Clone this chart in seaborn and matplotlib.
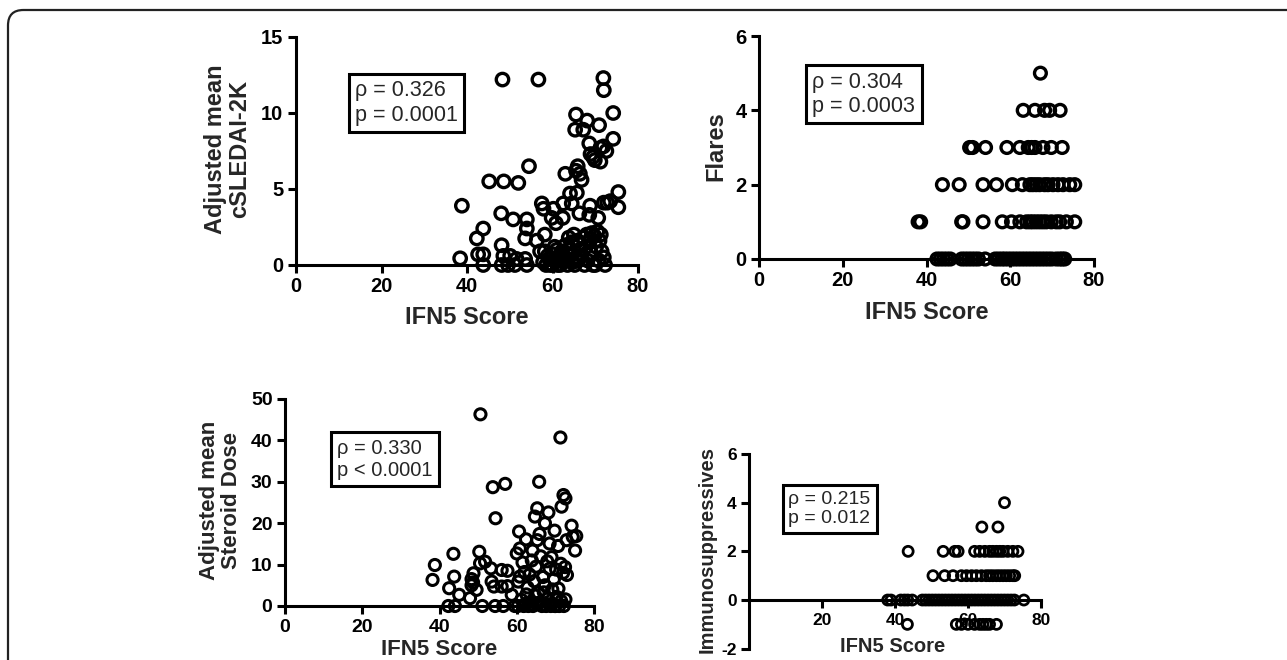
import numpy as np
import pandas as pd
import matplotlib
matplotlib.use("Agg")
import matplotlib.pyplot as plt
from matplotlib.patches import FancyBboxPatch
import seaborn as sns

# ---------------- data ----------------
# Panel A: Adjusted mean cSLEDAI-2K vs IFN5 score
sled_x = [48.3, 56.7, 71.9, 72.0,
          65.5, 74.2, 68.1, 70.9, 65.3, 67.2, 74.2, 68.6, 71.2, 71.9, 72.6, 68.9, 69.5, 69.9, 71.2,
          54.5, 65.9, 65.5, 63.0, 66.4, 66.8,
          45.2, 48.6, 52.0,
          75.4, 64.1, 65.7, 73.5, 72.0, 72.8, 75.4, 62.5, 64.5, 57.5, 57.9, 60.2, 68.8, 38.8,
          48.0, 66.3, 68.6, 70.7, 62.4, 59.8, 60.8, 50.8, 54.0, 54.0, 43.8, 53.6, 42.3, 56.3, 58.2,
          48.1, 42.6, 43.8, 38.4, 43.8,
          48.5, 50.1, 51.6, 48.1, 49.6, 51.2, 53.6, 54.0, 57.1, 58.2,
          60.5, 61.5, 62.0, 63.0, 63.8, 64.5, 65.0, 65.8, 66.5, 67.2, 68.0, 68.6, 69.2, 69.8, 70.5,
          71.0, 70.2, 71.5, 72.0, 72.3, 70.0, 68.2, 67.5, 66.0, 65.2, 64.2, 63.5, 62.6, 61.8, 60.8,
          60.0, 59.2, 58.5, 57.8, 61.2, 62.2, 64.8, 66.8, 69.0, 60.2, 59.5, 63.2, 67.8, 70.8, 69.5,
          66.2, 64.0, 61.0, 58.9, 71.3, 68.8, 65.5]
sled_y = [12.2, 12.2, 12.3, 11.5,
          9.9, 10.0, 9.5, 9.2, 8.9, 8.9, 8.3, 8.0, 7.7, 7.8, 7.5, 7.3, 7.1, 6.9, 6.8,
          6.5, 6.5, 6.2, 6.0, 6.0, 5.6,
          5.5, 5.5, 5.4,
          4.8, 4.7, 4.75, 4.2, 4.1, 4.1, 3.8, 4.05, 4.05, 4.05, 3.7, 3.7, 3.9, 3.9,
          3.4, 3.4, 3.3, 3.1, 3.1, 3.1, 2.75, 3.0, 3.0, 2.4, 2.4, 1.75, 1.75, 1.6, 2.0,
          1.3, 0.7, 0.7, 0.44, 0.0,
          0.6, 0.6, 0.4, 0.0, 0.0, 0.0, 0.4, 0.0, 0.9, 0.9,
          1.2, 0.5, 0.8, 1.3, 1.8, 1.5, 2.0, 1.6, 1.0, 1.8, 2.0, 1.5, 2.1, 1.9, 2.2,
          1.6, 1.2, 0.9, 0.5, 0.0, 0.0, 0.3, 0.0, 0.3, 0.0, 0.6, 0.0, 0.2, 0.0, 0.3,
          0.0, 0.4, 0.0, 0.2, 0.0, 0.9, 0.2, 0.6, 0.8, 0.7, 0.0, 0.4, 1.2, 0.3, 0.0,
          1.4, 1.1, 1.0, 0.6, 2.0, 1.7, 0.5]

# Panel B: Flares vs IFN5 score
flare_x = [67.2,
           63.1, 65.9, 68.2, 69.4, 71.9,
           50.3, 51.0, 54.1, 59.2, 62.3, 64.3, 65.1, 65.9, 67.8, 69.8, 72.4,
           43.8, 47.8, 53.5, 56.7, 60.5, 62.9, 64.7, 65.4, 66.2, 67.0, 68.2, 69.0, 70.2, 71.4,
           72.6, 74.2, 75.4,
           38.0, 38.6, 48.4, 48.7, 53.5, 58.1, 60.3, 62.3, 63.9, 64.7, 65.4, 66.2, 67.0, 67.8,
           68.6, 69.8, 71.0, 71.8, 73.4, 75.4,
           42.5, 43.3, 44.1, 44.9, 45.7, 48.4, 49.2, 50.0, 50.8, 51.6, 52.4, 54.0, 56.4, 57.2,
           58.0, 58.7, 59.5, 60.3, 61.1, 61.9, 62.7, 63.5, 64.3, 65.1, 65.9, 66.7, 67.5, 68.3,
           69.1, 69.9, 71.0, 71.8, 72.4, 73.0]
flare_y = [5,
           4, 4, 4, 4, 4,
           3, 3, 3, 3, 3, 3, 3, 3, 3, 3, 3,
           2, 2, 2, 2, 2, 2, 2, 2, 2, 2, 2, 2, 2, 2, 2, 2, 2,
           1, 1, 1, 1, 1, 1, 1, 1, 1, 1, 1, 1, 1, 1, 1, 1, 1, 1, 1, 1,
           0, 0, 0, 0, 0, 0, 0, 0, 0, 0, 0, 0, 0, 0, 0, 0, 0, 0, 0, 0, 0, 0, 0, 0, 0, 0, 0, 0,
           0, 0, 0, 0, 0, 0]

# Panel C: Adjusted mean steroid dose vs IFN5 score
ster_x = [50.6, 71.3, 65.8, 57.0, 53.8, 54.5, 72.1, 72.6, 65.3, 71.6, 68.2, 64.7, 67.3, 69.8,
          74.2, 60.6, 62.4, 65.9, 65.3, 75.4, 74.5, 72.9, 70.7, 75.1, 68.5, 60.8, 60.0, 64.1,
          43.6, 50.3, 38.8, 38.2, 42.5, 43.8, 45.1, 42.3, 44.0,
          48.8, 48.3, 48.7, 48.3, 49.6, 47.9, 51.1, 50.5, 51.8, 53.3, 53.5, 54.1, 54.4, 56.5,
          56.1, 57.6, 56.1, 57.6, 58.7, 60.8, 60.4,
          61.5, 62.0, 62.8, 63.3, 63.9, 64.5, 65.0, 65.6, 66.2, 66.8, 67.3, 67.9, 68.5, 69.0,
          69.6, 70.2, 70.8, 71.4, 72.0, 72.5, 61.2, 62.5, 63.6, 64.8, 65.9, 67.0, 68.1, 69.2,
          70.3, 71.5, 72.6, 60.3, 61.8, 63.0, 64.2, 66.5, 67.6, 68.8, 70.0, 71.0, 59.5, 62.2,
          63.8, 65.4, 66.9, 68.4, 69.9, 72.2, 73.0]
ster_y = [46.3, 40.7, 30.0, 29.5, 28.7, 21.2, 26.8, 26.0, 23.6, 24.0, 22.6, 21.6, 20.0, 18.2,
          19.4, 18.0, 16.1, 17.4, 15.9, 16.9, 16.7, 15.9, 14.5, 13.4, 15.1, 13.9, 12.7, 13.4,
          12.6, 13.1, 9.9, 6.3, 4.3, 7.1, 2.7, 0.0, 0.0,
          7.9, 6.5, 5.7, 5.0, 3.9, 1.9, 0.0, 10.3, 10.7, 9.1, 5.9, 4.7, 0.0, 0.0,
          8.7, 8.5, 4.7, 4.8, 2.7, 7.1, 5.9,
          10.5, 8.2, 4.5, 7.6, 11.0, 6.0, 9.5, 3.2, 12.0, 7.0, 5.0, 10.8, 9.0, 11.8,
          6.4, 8.8, 4.2, 10.2, 8.0, 9.4, 1.5, 2.8, 1.0, 2.5, 0.8, 3.3, 1.8, 4.0,
          2.2, 1.2, 1.6, 0.0, 0.0, 0.0, 0.0, 0.0, 0.0, 0.0, 0.0, 0.0, 0.0, 0.5,
          0.3, 0.6, 0.2, 0.4, 0.0, 0.0, 7.5]

# Panel D: Immunosuppressives vs IFN5 score
imm_x = [70.0,
         63.8, 68.2,
         43.6, 53.2, 56.4, 57.3, 61.8, 63.2, 64.6, 65.9, 66.8, 67.8, 68.7, 69.6, 70.9, 72.3, 73.7,
         50.4, 53.6, 55.9, 58.2, 59.6, 61.0, 62.3, 63.7, 65.0, 65.9, 66.8, 67.8, 68.7, 69.6,
         70.5, 71.4, 72.3, 72.8,
         38.0, 38.9, 41.6, 42.6, 43.5, 44.7, 47.5, 48.4, 49.3, 50.2, 51.1, 52.0, 52.9, 53.8,
         54.7, 55.6, 56.5, 57.4, 58.3, 59.2, 60.1, 61.0, 61.9, 62.8, 63.7, 64.6, 65.5, 66.4,
         67.3, 68.2, 69.1, 70.0, 70.9, 71.8, 72.7, 75.3,
         43.4, 56.8, 58.2, 60.0, 61.8, 63.2, 64.1, 65.0, 65.9, 67.8]
imm_y = [4,
         3, 3,
         2, 2, 2, 2, 2, 2, 2, 2, 2, 2, 2, 2, 2, 2, 2,
         1, 1, 1, 1, 1, 1, 1, 1, 1, 1, 1, 1, 1, 1, 1, 1, 1, 1,
         0, 0, 0, 0, 0, 0, 0, 0, 0, 0, 0, 0, 0, 0, 0, 0, 0, 0, 0, 0, 0, 0, 0, 0, 0, 0, 0, 0,
         0, 0, 0, 0, 0, 0, 0, 0,
         -1, -1, -1, -1, -1, -1, -1, -1, -1, -1]

x_label = "IFN5 Score"
panel_ylabels = ["Adjusted mean\ncSLEDAI-2K", "Flares", "Adjusted mean\nSteroid Dose", "Immunosuppressives"]
stats_text = ["\u03c1 = 0.326\np = 0.0001", "\u03c1 = 0.304\np = 0.0003",
              "\u03c1 = 0.330\np < 0.0001", "\u03c1 = 0.215\np = 0.012"]

# ---------------- style ----------------
sns.set_style("ticks")
plt.rcParams['font.family'] = ['Liberation Sans', 'DejaVu Sans']
plt.rcParams['font.weight'] = 'bold'
plt.rcParams['axes.labelweight'] = 'bold'
plt.rcParams['axes.unicode_minus'] = False

W, H = 1287, 660
fig = plt.figure(figsize=(W / 100, H / 100), dpi=100)

def px_axes(l, r, t, b):
    return fig.add_axes([l / W, (H - b) / H, (r - l) / W, (b - t) / H])

panels = [
    dict(ax=px_axes(296, 638, 37, 265), x=sled_x, y=sled_y, ylim=(0, 15), yt=[0, 5, 10, 15],
         xt=[0, 20, 40, 60, 80], tick_fs=14.5, lab_fs=17, ms=80, lw=2.4, ann_fs=15.5,
         ann=(13.8, 10.66), ylab=(-0.199, 0.509), xlab=(0.5, -0.232)),
    dict(ax=px_axes(759, 1094, 36, 259), x=flare_x, y=flare_y, ylim=(0, 6), yt=[0, 2, 4, 6],
         xt=[0, 20, 40, 60, 80], tick_fs=14.5, lab_fs=17, ms=72, lw=2.4, ann_fs=15.5,
         ann=(12.7, 4.43), ylab=(-0.128, 0.507), xlab=(0.5, -0.242)),
    dict(ax=px_axes(285, 594, 399, 606), x=ster_x, y=ster_y, ylim=(0, 50), yt=[0, 10, 20, 30, 40, 50],
         xt=[0, 20, 40, 60, 80], tick_fs=14, lab_fs=16, ms=64, lw=2.2, ann_fs=14.5,
         ann=(13.5, 35.5), ylab=(-0.21, 0.512), xlab=(0.5, -0.212)),
    dict(ax=px_axes(749, 1041, 454, 648.7), x=imm_x, y=imm_y, ylim=(-2, 6), yt=[-2, 0, 2, 4, 6],
         xt=[20, 40, 60, 80], tick_fs=12.5, lab_fs=14.5, ms=52, lw=2.0, ann_fs=14,
         ann=(10.8, 3.74), ylab=(-0.144, 0.512), xlab=(0.493, 0.01)),
]

for i, p in enumerate(panels):
    ax = p['ax']
    df = pd.DataFrame({'x': p['x'], 'y': p['y']})
    sns.scatterplot(data=df, x='x', y='y', ax=ax, marker='o', s=p['ms'],
                    fc='none', ec='black', linewidth=p['lw'], clip_on=False, zorder=5,
                    legend=False)
    ax.set_xlim(0, 80)
    ax.set_ylim(*p['ylim'])
    ax.set_xticks(p['xt'])
    ax.set_yticks(p['yt'])
    for s in ['top', 'right']:
        ax.spines[s].set_visible(False)
    for s in ['left', 'bottom']:
        ax.spines[s].set_linewidth(2.2)
        ax.spines[s].set_color('black')
    if i == 3:
        ax.spines['bottom'].set_position(('data', 0))
    ax.tick_params(axis='both', direction='out', length=6, width=2.2, colors='black',
                   labelsize=p['tick_fs'], pad=3)
    for lbl in ax.get_xticklabels() + ax.get_yticklabels():
        lbl.set_fontweight('bold')
    ax.set_xlabel(x_label, fontsize=p['lab_fs'], fontweight='bold', va='center')
    ax.xaxis.set_label_coords(*p['xlab'])
    ax.set_ylabel(panel_ylabels[i], fontsize=p['lab_fs'], fontweight='bold', va='center',
                  linespacing=1.05)
    ax.yaxis.set_label_coords(*p['ylab'])
    ax.text(p['ann'][0], p['ann'][1], stats_text[i], ha='left', va='center',
            fontsize=p['ann_fs'], fontweight='normal', linespacing=1.2, zorder=6,
            bbox=dict(boxstyle='square,pad=0.3', fc='white', ec='black', lw=2.2))
    ax.set_facecolor('none')

# outer rounded border (left and top visible)
border = FancyBboxPatch((8 / W, -0.2), 1.3, (H - 10) / H + 0.2,
                        boxstyle='round,pad=0,rounding_size=0.012',
                        transform=fig.transFigure, fc='none', ec='#222222', lw=1.6,
                        mutation_aspect=W / H)
fig.patches.append(border)

fig.savefig('out.png', dpi=100, facecolor='white')
